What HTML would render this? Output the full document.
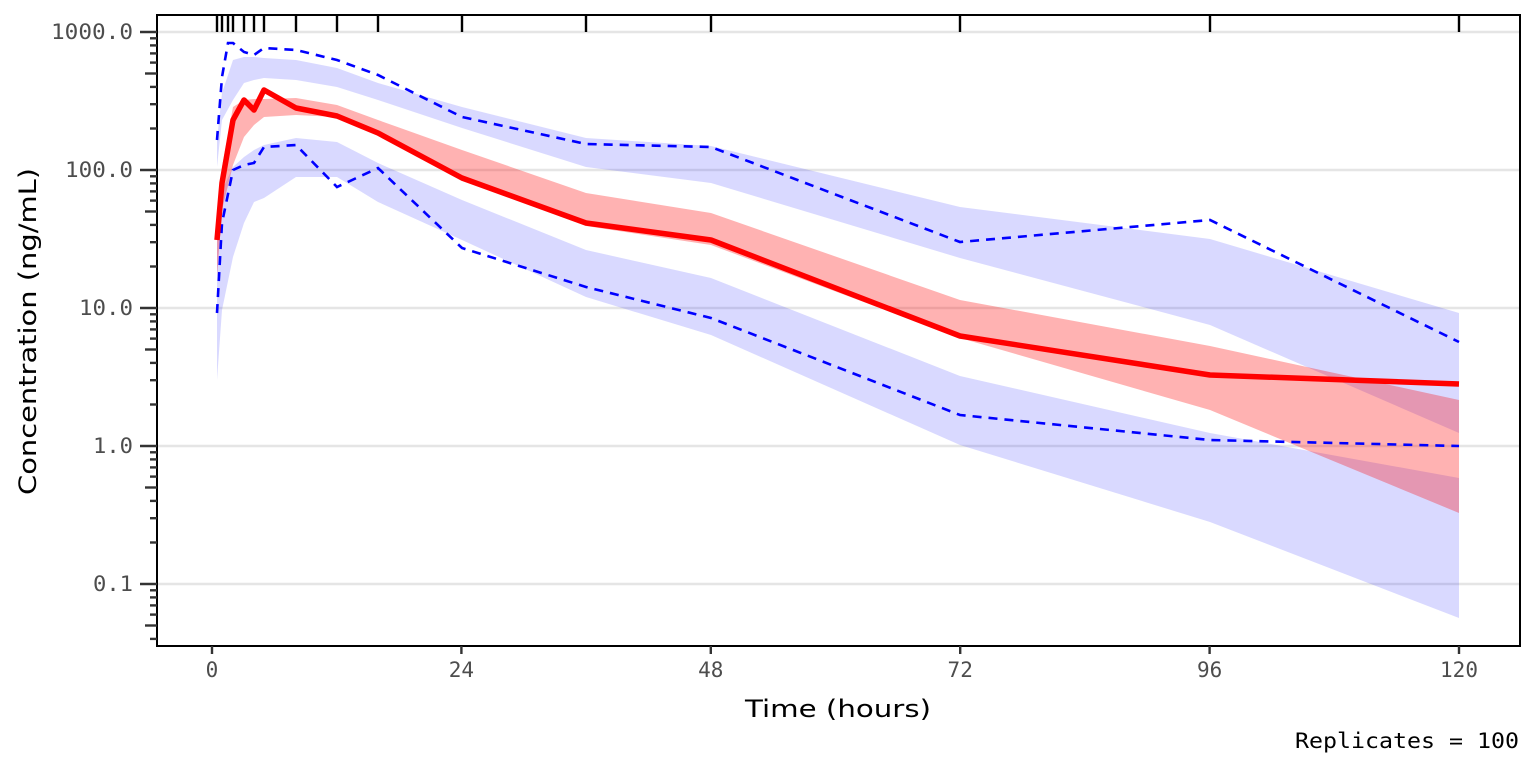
<!DOCTYPE html>
<html><head><meta charset="utf-8"><style>
html,body{margin:0;padding:0;background:#fff;}
svg{display:block;}
.tl{font-family:"DejaVu Sans Mono","Liberation Mono",monospace;font-size:21px;fill:#4d4d4d;}
.ti{font-family:"DejaVu Sans","Liberation Sans",sans-serif;font-size:24px;fill:#000;}
</style></head><body>
<svg width="1536" height="768" viewBox="0 0 1536 768" xmlns="http://www.w3.org/2000/svg">
<rect width="1536" height="768" fill="#fff"/>
<g stroke="#e5e5e5" stroke-width="2.4">
<line x1="157" x2="1520" y1="32" y2="32"/><line x1="157" x2="1520" y1="170" y2="170"/>
<line x1="157" x2="1520" y1="308" y2="308"/><line x1="157" x2="1520" y1="446" y2="446"/>
<line x1="157" x2="1520" y1="584" y2="584"/>
</g>
<polygon fill="rgba(0,0,255,0.15)" points="217,140 222,93 233,60 244,57 254,57 264,58 296,60 337,68 378,83 462,107 586,138 711,146 960,207 1210,239 1459,313 1459,433 1210,325 960,258 711,183 586,167 462,128 378,100 337,87 296,80 264,78 254,80 244,83 233,100 222,120 217,167"/>
<polygon fill="rgba(0,0,255,0.15)" points="217,243 222,190 233,167 244,157 254,150 264,145 296,138 337,142 378,163 462,200 586,250 711,278 960,376 1210,433 1459,478 1459,618 1210,522 960,445 711,335 586,297 462,240 378,202 337,177 296,177 264,198 254,202 244,223 233,257 222,310 217,380"/>
<polygon fill="rgba(255,0,0,0.3)" points="217,223 222,167 233,107 244,100 254,99 264,99 296,98 337,105 378,120 462,150 586,193 711,213 960,300 1210,346 1459,400 1459,513 1210,410 960,338 711,245 586,226 462,180 378,135 337,117 296,115 264,117 254,125 244,137 233,165 222,210 217,277"/>
<g fill="none" stroke="#0000ff" stroke-width="2.6" stroke-dasharray="9,7">
<polyline points="217,140 222,77 228,43 233,43 244,52 254,55 264,48 296,50 337,60 378,75 462,117 586,144 711,147 960,242 1210,220 1459,342"/>
<polyline points="217,313 222,223 233,170 244,165 254,163 264,147 296,145 337,187 378,168 462,248 586,287 711,318 960,415 1210,440 1459,446"/>
</g>
<polyline fill="none" stroke="#ff0000" stroke-width="5.5" stroke-linejoin="round" points="217,240 222,183 233,120 244,100 254,110 264,90 296,108 337,116 378,133 462,178 586,223 711,240 960,336 1210,375 1459,384"/>
<rect x="157" y="15" width="1363" height="631" fill="none" stroke="#000" stroke-width="2"/>
<g stroke="#000" stroke-width="2.4">
<line x1="217" x2="217" y1="15" y2="32"/><line x1="222" x2="222" y1="15" y2="32"/>
<line x1="228" x2="228" y1="15" y2="32"/><line x1="233" x2="233" y1="15" y2="32"/>
<line x1="244" x2="244" y1="15" y2="32"/><line x1="254" x2="254" y1="15" y2="32"/>
<line x1="264" x2="264" y1="15" y2="32"/><line x1="296" x2="296" y1="15" y2="32"/>
<line x1="337" x2="337" y1="15" y2="32"/><line x1="378" x2="378" y1="15" y2="32"/>
<line x1="462" x2="462" y1="15" y2="32"/><line x1="586" x2="586" y1="15" y2="32"/>
<line x1="711" x2="711" y1="15" y2="32"/><line x1="960" x2="960" y1="15" y2="32"/>
<line x1="1210" x2="1210" y1="15" y2="32"/><line x1="1459" x2="1459" y1="15" y2="32"/>
</g>
<g stroke="#333" stroke-width="2.4">
<line x1="140" x2="157" y1="32" y2="32"/><line x1="140" x2="157" y1="170" y2="170"/>
<line x1="140" x2="157" y1="308" y2="308"/><line x1="140" x2="157" y1="446" y2="446"/>
<line x1="140" x2="157" y1="584" y2="584"/>
<line x1="145" x2="157" y1="73.5" y2="73.5"/><line x1="145" x2="157" y1="211.5" y2="211.5"/>
<line x1="145" x2="157" y1="349.5" y2="349.5"/><line x1="145" x2="157" y1="487.5" y2="487.5"/>
<line x1="145" x2="157" y1="625.5" y2="625.5"/>
</g>
<g stroke="#333" stroke-width="2.4">
<line x1="150" x2="157" y1="128.5" y2="128.5"/><line x1="150" x2="157" y1="104.2" y2="104.2"/><line x1="150" x2="157" y1="86.9" y2="86.9"/><line x1="150" x2="157" y1="62.6" y2="62.6"/><line x1="150" x2="157" y1="53.4" y2="53.4"/><line x1="150" x2="157" y1="45.4" y2="45.4"/><line x1="150" x2="157" y1="38.3" y2="38.3"/>
<line x1="150" x2="157" y1="266.5" y2="266.5"/><line x1="150" x2="157" y1="242.2" y2="242.2"/><line x1="150" x2="157" y1="224.9" y2="224.9"/><line x1="150" x2="157" y1="200.6" y2="200.6"/><line x1="150" x2="157" y1="191.4" y2="191.4"/><line x1="150" x2="157" y1="183.4" y2="183.4"/><line x1="150" x2="157" y1="176.3" y2="176.3"/>
<line x1="150" x2="157" y1="404.5" y2="404.5"/><line x1="150" x2="157" y1="380.2" y2="380.2"/><line x1="150" x2="157" y1="362.9" y2="362.9"/><line x1="150" x2="157" y1="338.6" y2="338.6"/><line x1="150" x2="157" y1="329.4" y2="329.4"/><line x1="150" x2="157" y1="321.4" y2="321.4"/><line x1="150" x2="157" y1="314.3" y2="314.3"/>
<line x1="150" x2="157" y1="542.5" y2="542.5"/><line x1="150" x2="157" y1="518.2" y2="518.2"/><line x1="150" x2="157" y1="500.9" y2="500.9"/><line x1="150" x2="157" y1="476.6" y2="476.6"/><line x1="150" x2="157" y1="467.4" y2="467.4"/><line x1="150" x2="157" y1="459.4" y2="459.4"/><line x1="150" x2="157" y1="452.3" y2="452.3"/>
<line x1="150" x2="157" y1="638.9" y2="638.9"/><line x1="150" x2="157" y1="614.6" y2="614.6"/><line x1="150" x2="157" y1="605.4" y2="605.4"/><line x1="150" x2="157" y1="597.4" y2="597.4"/><line x1="150" x2="157" y1="590.3" y2="590.3"/>
</g>
<g stroke="#333" stroke-width="2.4">
<line x1="212" x2="212" y1="646" y2="654"/><line x1="461.4" x2="461.4" y1="646" y2="654"/>
<line x1="710.8" x2="710.8" y1="646" y2="654"/><line x1="960.2" x2="960.2" y1="646" y2="654"/>
<line x1="1209.6" x2="1209.6" y1="646" y2="654"/><line x1="1459" x2="1459" y1="646" y2="654"/>
</g>
<g class="tl" text-anchor="end">
<text x="133" y="39" textLength="82" lengthAdjust="spacingAndGlyphs">1000.0</text>
<text x="133" y="177" textLength="68" lengthAdjust="spacingAndGlyphs">100.0</text>
<text x="133" y="315" textLength="54" lengthAdjust="spacingAndGlyphs">10.0</text>
<text x="133" y="453" textLength="40" lengthAdjust="spacingAndGlyphs">1.0</text>
<text x="133" y="591" textLength="40" lengthAdjust="spacingAndGlyphs">0.1</text>
</g>
<g class="tl" text-anchor="middle">
<text x="212" y="677">0</text><text x="461.4" y="677">24</text><text x="710.8" y="677">48</text>
<text x="960.2" y="677">72</text><text x="1209.6" y="677">96</text><text x="1459" y="677">120</text>
</g>
<text class="ti" x="745" y="717" textLength="186" lengthAdjust="spacingAndGlyphs">Time (hours)</text>
<text class="ti" transform="translate(36,495) rotate(-90)" x="0" y="0" textLength="327" lengthAdjust="spacingAndGlyphs">Concentration (ng/mL)</text>
<text x="1295" y="748" style="font-family:'DejaVu Sans Mono','Liberation Mono',monospace;font-size:21px;fill:#000" textLength="224" lengthAdjust="spacingAndGlyphs">Replicates = 100</text>
</svg>
</body></html>
